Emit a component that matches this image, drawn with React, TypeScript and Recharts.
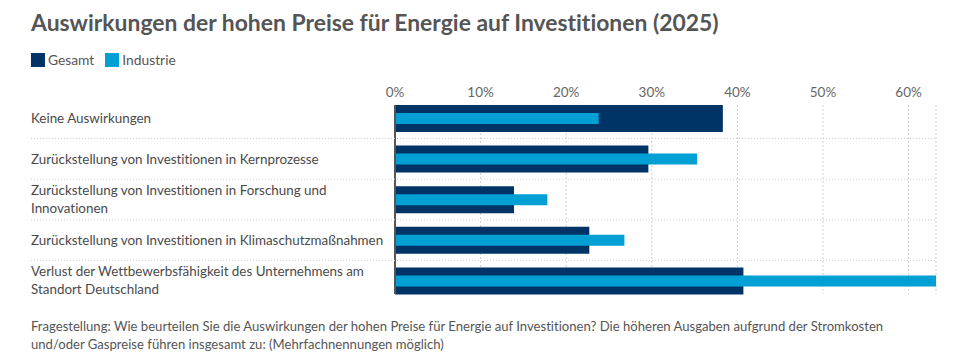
import { Bar, BarChart, CartesianGrid, XAxis, YAxis } from 'recharts';

const categories = [
  'Keine Auswirkungen',
  'Zurückstellung von Investitionen in Kernprozesse',
  'Zurückstellung von Investitionen in Forschung und Innovationen',
  'Zurückstellung von Investitionen in Klimaschutzmaßnahmen',
  'Verlust der Wettbewerbsfähigkeit des Unternehmens am Standort Deutschland',
];
const gesamt = [38.3, 29.6, 13.9, 22.7, 40.7];
const industrie = [23.8, 35.3, 17.8, 26.8, 63.2];
const xTicks = [0, 10, 20, 30, 40, 50, 60];

const rows = categories.map((label, i) => ({
  label,
  gesamt: gesamt[i],
  industrie: industrie[i],
}));

const FONT = 'Lato, "Noto Sans", sans-serif';
const DARK = '#003366';
const LIGHT = '#009fd4';
const TEXT = '#555';
const BAND = 40.6;
const noLig = { fontVariantLigatures: 'none' as const };

function wrap(text: string, max: number) {
  const out: string[] = [];
  let line = '';
  for (const w of text.split(' ')) {
    if (line && (line + ' ' + w).length > max) {
      out.push(line);
      line = w;
    } else {
      line = line ? line + ' ' + w : w;
    }
  }
  if (line) out.push(line);
  return out;
}

function CategoryTick(props: any) {
  const { y, payload, index } = props;
  const lines = wrap(payload.value, 56);
  const lh = 18;
  const top = y - ((lines.length - 1) * lh) / 2;
  return (
    <g>
      <text textAnchor="start" fill="#4a4a4a" fontSize={13.4} fontFamily={FONT} style={noLig}>
        {lines.map((l, i) => (
          <tspan key={i} x={31} y={top + i * lh} dy="0.35em">
            {l}
          </tspan>
        ))}
      </text>
      {index < categories.length - 1 && (
        <line
          x1={31}
          x2={936}
          y1={y + BAND / 2}
          y2={y + BAND / 2}
          stroke="#cfcfcf"
          strokeDasharray="1 2"
        />
      )}
    </g>
  );
}

function PercentTick(props: any) {
  const { x, payload } = props;
  return (
    <text x={x} y={97} textAnchor="middle" fill="#666" fontSize={13.5} fontFamily={FONT}>
      {payload.value}%
    </text>
  );
}

export default function App() {
  return (
    <div style={{ position: 'absolute', left: 0, top: 0, width: 980, height: 357, background: '#fff', fontFamily: FONT, ...noLig }}>
      <div style={{ position: 'absolute', left: 31, top: 8, fontSize: 22.9, fontWeight: 700, color: TEXT, whiteSpace: 'nowrap' }}>
        Auswirkungen der hohen Preise für Energie auf Investitionen (2025)
      </div>
      <div style={{ position: 'absolute', left: 31, top: 51, display: 'flex', alignItems: 'center', fontSize: 13.8, color: TEXT }}>
        <span style={{ width: 14, height: 14, background: DARK, display: 'inline-block', marginRight: 3 }} />
        <span style={{ marginRight: 11 }}>Gesamt</span>
        <span style={{ width: 14, height: 14, background: LIGHT, display: 'inline-block', marginRight: 3 }} />
        <span>Industrie</span>
      </div>
      <div style={{ position: 'absolute', left: 0, top: 0 }}>
        <BarChart
          width={980}
          height={357}
          data={rows}
          layout="vertical"
          margin={{ top: 81, right: 44, bottom: 63, left: 0 }}
        >
          <CartesianGrid horizontal={false} yAxisId="a" stroke="#cfcfcf" strokeDasharray="2 2" />
          <XAxis
            type="number"
            orientation="top"
            domain={[0, 'dataMax']}
            ticks={xTicks}
            height={24}
            axisLine={false}
            tickLine={false}
            tick={<PercentTick />}
          />
          <YAxis
            yAxisId="a"
            type="category"
            dataKey="label"
            width={395}
            padding={{ top: -7, bottom: -7 }}
            axisLine={{ stroke: '#555', strokeWidth: 2 }}
            tickLine={false}
            tick={<CategoryTick />}
            interval={0}
          />
          <YAxis
            yAxisId="b"
            type="category"
            dataKey="label"
            hide
            padding={{ top: -7, bottom: -7 }}
          />
          <Bar yAxisId="a" dataKey="gesamt" fill={DARK} barSize={27} isAnimationActive={false} />
          <Bar yAxisId="b" dataKey="industrie" fill={LIGHT} barSize={11} isAnimationActive={false} />
        </BarChart>
      </div>
      <div style={{ position: 'absolute', left: 31, top: 317, fontSize: 13.1, lineHeight: '18px', color: TEXT }}>
        Fragestellung: Wie beurteilen Sie die Auswirkungen der hohen Preise für Energie auf Investitionen? Die höheren Ausgaben aufgrund der Stromkosten
        <br />
        und/oder Gaspreise führen insgesamt zu: (Mehrfachnennungen möglich)
      </div>
    </div>
  );
}
